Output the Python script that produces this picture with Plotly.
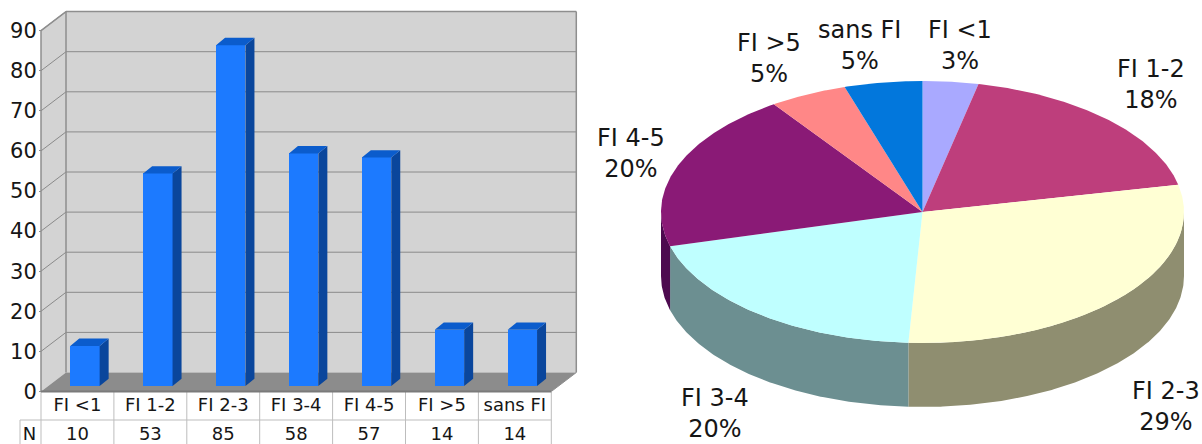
import numpy as np
import plotly.graph_objects as go

# Chart data
categories = ["FI <1", "FI 1-2", "FI 2-3", "FI 3-4", "FI 4-5", "FI >5", "sans FI"]
counts = [10, 53, 85, 58, 57, 14, 14]
percent_labels = ["3%", "18%", "29%", "20%", "20%", "5%", "5%"]
y_ticks = [0, 10, 20, 30, 40, 50, 60, 70, 80, 90]

W, H = 1202, 444
FONT = "DejaVu Sans"
INK = "#161616"

# Bar panel scale: one category = 72.9 px, one count = 4.01 px, origin at (41, 391.5)
STEP, UNIT, X0, Y0 = 72.9, 4.01, 41.0, 391.5
PANEL_RIGHT = 590.0
DX, DY = 25 / STEP, 19 / UNIT            # depth of the chart box
BAR_W = 29.4 / STEP
BAR_DX, BAR_DY = 9 / STEP, 7.3 / UNIT    # depth of a bar
BAR_SHIFT_X, BAR_BASE = 7.5 / STEP, 5.5 / UNIT


def to_y(px):
    return (Y0 - px) / UNIT


WALL, EDGE, FLOOR, GRID = "#D3D3D3", "#8E8E8E", "#8C8C8C", "#8A8A8A"
TABLE_LINE = "#BDBDBD"
BAR_FRONT, BAR_SIDE, BAR_TOP = "#1C7AFF", "#0A469C", "#0B5CCC"


def polygon(xs, ys, fill, line=None, width=0):
    path = "M" + "L".join(f"{a},{b}" for a, b in zip(xs, ys)) + "Z"
    return dict(type="path", path=path, xref="x", yref="y", layer="below",
                fillcolor=fill, line=dict(color=line or fill, width=width))


def segment(x0, y0, x1, y1, color, width=1.0, layer="below"):
    return dict(type="line", x0=x0, y0=y0, x1=x1, y1=y1, xref="x", yref="y",
                layer=layer, line=dict(color=color, width=width))


n = len(categories)
top = y_ticks[-1]
shapes = [
    polygon([DX, n + DX, n + DX, DX], [DY, DY, top + DY, top + DY], WALL),
    polygon([0, DX, DX, 0], [0, DY, top + DY, top], WALL),
    polygon([0, DX, n + DX, n], [0, DY, DY, 0], FLOOR),
]
for v in y_ticks[1:-1]:
    shapes.append(segment(DX, v + DY, n + DX, v + DY, GRID))
for v in y_ticks[1:]:
    shapes.append(segment(0, v, DX, v + DY, GRID))
shapes += [
    segment(DX, DY, DX, top + DY, EDGE, 1.5),
    segment(DX, top + DY, n + DX, top + DY, EDGE, 1.5),
    segment(n + DX, DY, n + DX, top + DY, EDGE, 1.5),
    segment(0, 0, 0, top, EDGE, 1.5),
    segment(0, top, DX, top + DY, EDGE, 1.5),
    segment(n, 0, n + DX, DY, EDGE, 1),
]

# Table under the bars
ROW1, ROW2 = to_y(420), to_y(444)
for i in range(n + 1):
    shapes.append(segment(i, 0, i, ROW2, TABLE_LINE, 1))
shapes.append(segment(-21 / STEP, ROW1, n, ROW1, TABLE_LINE, 1))
shapes.append(segment(-21 / STEP, ROW1, -21 / STEP, ROW2, TABLE_LINE, 1))
shapes.append(segment(0, 0, n, 0, "#7A7A7A", 2))

centers = np.arange(n) + 0.5
counts_arr = np.array(counts, dtype=float)
left = centers + BAR_SHIFT_X - BAR_W / 2
right = left + BAR_W

traces = [go.Bar(x=centers + BAR_SHIFT_X, y=counts, base=BAR_BASE, width=BAR_W,
                 marker=dict(color=BAR_FRONT, line=dict(width=0)),
                 xaxis="x", yaxis="y", showlegend=False, hoverinfo="skip")]

side_x, side_y, top_x, top_y = [], [], [], []
for l, r, v in zip(left, right, counts_arr):
    t = BAR_BASE + v
    side_x += [r, r + BAR_DX, r + BAR_DX, r, r, None]
    side_y += [BAR_BASE, BAR_BASE + BAR_DY, t + BAR_DY, t, BAR_BASE, None]
    top_x += [l, r, r + BAR_DX, l + BAR_DX, l, None]
    top_y += [t, t, t + BAR_DY, t + BAR_DY, t, None]
for xs, ys, c in ((side_x, side_y, BAR_SIDE), (top_x, top_y, BAR_TOP)):
    traces.append(go.Scatter(x=xs, y=ys, mode="lines", fill="toself", fillcolor=c,
                             line=dict(width=0, color=c), xaxis="x", yaxis="y",
                             showlegend=False, hoverinfo="skip"))

traces.append(go.Scatter(x=centers, y=[to_y(406.5)] * n, text=categories, mode="text",
                         textfont=dict(family=FONT, size=18, color=INK),
                         xaxis="x", yaxis="y", showlegend=False, hoverinfo="skip"))
traces.append(go.Scatter(x=centers, y=[to_y(435.5)] * n, text=[str(c) for c in counts],
                         mode="text", textfont=dict(family=FONT, size=18, color=INK),
                         xaxis="x", yaxis="y", showlegend=False, hoverinfo="skip"))
traces.append(go.Scatter(x=[-11.5 / STEP], y=[to_y(435.5)], text=["N"], mode="text",
                         textfont=dict(family=FONT, size=18, color=INK),
                         xaxis="x", yaxis="y", showlegend=False, hoverinfo="skip"))

# Pie panel, drawn in pixel-sized axis units around the disc centre
CX, CY, RX, RY, DEPTH = 922.5, 212.0, 261.5, 131.0, 64.0
top_colors = ["#A9A9FF", "#BE3E7C", "#FFFFD4", "#BFFFFF", "#8A1A76", "#FF8787", "#0277DC"]
side_colors = ["#6A6A9F", "#77274E", "#8F8E70", "#6C8F91", "#4D0A4F", "#9F5454", "#014A89"]

edges = np.concatenate([[0.0], np.cumsum(counts_arr)]) / counts_arr.sum() * 2 * np.pi


def rim(a, b, drop=0.0):
    t = np.linspace(a, b, max(3, int(np.degrees(b - a)) * 2))
    return CX + RX * np.sin(t), CY - RY * np.cos(t) + drop


# Visible wall: the front half of the rim, from 90 to 270 degrees
for a, b, c in zip(edges[:-1], edges[1:], side_colors):
    lo, hi = max(a, np.pi / 2), min(b, 3 * np.pi / 2)
    if hi <= lo:
        continue
    x1, y1 = rim(lo, hi)
    x2, y2 = rim(lo, hi, DEPTH)
    traces.append(go.Scatter(x=np.r_[x1, x2[::-1]], y=np.r_[y1, y2[::-1]], mode="lines",
                             fill="toself", fillcolor=c, line=dict(width=0, color=c),
                             xaxis="x2", yaxis="y2", showlegend=False, hoverinfo="skip"))

for a, b, c in zip(edges[:-1], edges[1:], top_colors):
    x1, y1 = rim(a, b)
    traces.append(go.Scatter(x=np.r_[CX, x1, CX], y=np.r_[CY, y1, CY], mode="lines",
                             fill="toself", fillcolor=c, line=dict(width=0, color=c),
                             xaxis="x2", yaxis="y2", showlegend=False, hoverinfo="skip"))

# Slice label anchors (centre of each two-line label)
label_x = [960, 1151, 1166, 715, 631, 769, 859]
label_y = [45, 84, 406, 413, 153, 58, 45]
annotations = [
    dict(x=x, y=y, xref="x2", yref="y2", text=f"{c}<br>{p}", showarrow=False,
         align="center", xanchor="center", yanchor="middle",
         font=dict(family=FONT, size=24, color=INK))
    for x, y, c, p in zip(label_x, label_y, categories, percent_labels)
]

fig = go.Figure(traces)
fig.update_layout(
    width=W, height=H, autosize=False,
    margin=dict(l=0, r=0, t=0, b=0),
    paper_bgcolor="white", plot_bgcolor="white",
    showlegend=False, hovermode=False, bargap=0,
    shapes=shapes, annotations=annotations,
    xaxis=dict(domain=[0, PANEL_RIGHT / W], range=[-X0 / STEP, (PANEL_RIGHT - X0) / STEP],
               visible=False, fixedrange=True),
    yaxis=dict(domain=[0, 1], range=[to_y(H), to_y(0)], anchor="free", position=X0 / W,
               tickmode="array", tickvals=y_ticks, ticktext=[str(v) for v in y_ticks],
               ticks="outside", ticklen=2, tickcolor=EDGE, showgrid=False, zeroline=False,
               showline=False, fixedrange=True, ticklabelstandoff=-2,
               tickfont=dict(family=FONT, size=21, color=INK)),
    xaxis2=dict(domain=[PANEL_RIGHT / W, 1], range=[PANEL_RIGHT, W], visible=False,
                fixedrange=True, anchor="y2"),
    yaxis2=dict(domain=[0, 1], range=[H, 0], visible=False, fixedrange=True, anchor="x2"),
)
fig.write_html("out.html", config=dict(displayModeBar=False))
